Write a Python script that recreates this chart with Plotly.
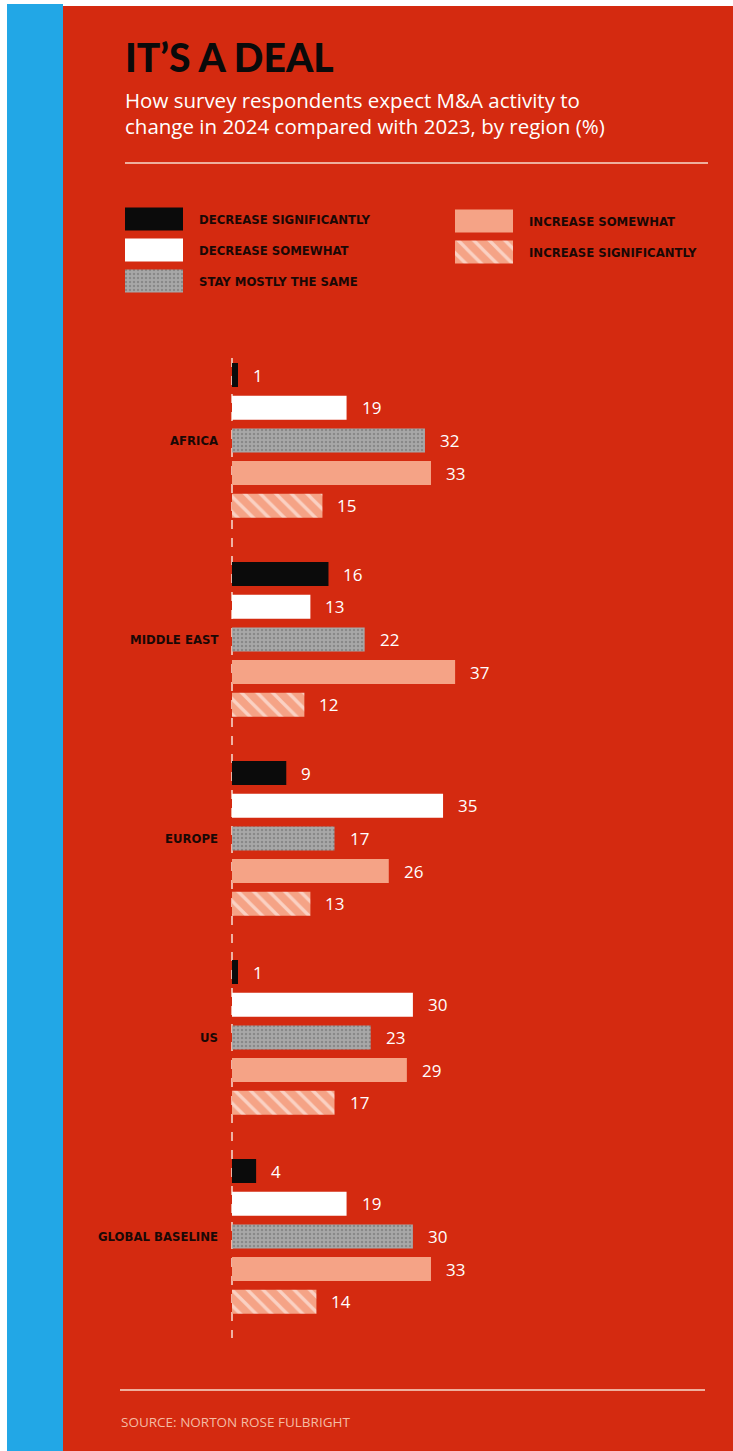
import plotly.graph_objects as go

# ---------------- data ----------------
regions = ["AFRICA", "MIDDLE EAST", "EUROPE", "US", "GLOBAL BASELINE"]
series_names = ["DECREASE SIGNIFICANTLY", "DECREASE SOMEWHAT", "STAY MOSTLY THE SAME",
                "INCREASE SOMEWHAT", "INCREASE SIGNIFICANTLY"]
decrease_significantly = [1, 16, 9, 1, 4]
decrease_somewhat = [19, 13, 35, 30, 19]
stay_mostly_the_same = [32, 22, 17, 23, 30]
increase_somewhat = [33, 37, 26, 29, 33]
increase_significantly = [15, 12, 13, 17, 14]
series_values = [decrease_significantly, decrease_somewhat, stay_mostly_the_same,
                 increase_somewhat, increase_significantly]

title = "IT’S A DEAL"
subtitle_lines = ["How survey respondents expect M&A activity to",
                  "change in 2024 compared with 2023, by region (%)"]
source = "SOURCE: NORTON ROSE FULBRIGHT"

# ---------------- styling ----------------
W, H = 733, 1451
RED = "#d42a10"
BLUE = "#22a7e6"
SALMON = "#f5a386"
styles = [
    dict(color="#0b0b0b"),
    dict(color="#ffffff"),
    dict(color="#a0a0a0", pattern=dict(shape=".", fgcolor="#6a6a6a", bgcolor="#a8a8a8",
                                       size=4, solidity=0.3)),
    dict(color=SALMON),
    dict(color=SALMON, pattern=dict(shape="\\", fgcolor="#ffffff", bgcolor=SALMON,
                                    size=11, solidity=0.3)),
]

ZERO_PX = 232          # pixel position of value 0
PX_PER_UNIT = 6.03     # horizontal scale
FIRST_BAR_Y = 375      # centre of first bar (pixels from top)
GROUP_STEP = 199
SLOT = 32.7
BAR_H = 24

LABEL_FONT = "Liberation Sans Narrow, Arial Narrow, DejaVu Sans Condensed, sans-serif"
BODY_FONT = "Open Sans, Lato, sans-serif"

fig = go.Figure()

# main bars (x axis in data units, y axis in pixel units, reversed)
for j, (name, vals) in enumerate(zip(series_names, series_values)):
    ys = [FIRST_BAR_Y + i * GROUP_STEP + j * SLOT for i in range(len(regions))]
    fig.add_trace(go.Bar(
        x=vals, y=ys, orientation="h", width=BAR_H, name=name,
        marker=dict(line=dict(width=0), **styles[j]),
        showlegend=False, hoverinfo="x+name",
    ))
    for v, y in zip(vals, ys):
        fig.add_annotation(x=v, y=y, xref="x", yref="y", text=str(v), showarrow=False,
                           xanchor="left", yanchor="middle", xshift=13,
                           font=dict(family=BODY_FONT, size=17, color="white"))

# region labels
for i, r in enumerate(regions):
    fig.add_annotation(x=220 / W, xref="paper", y=FIRST_BAR_Y + i * GROUP_STEP + 2 * SLOT,
                       yref="y", text=r, showarrow=False, xanchor="right", yanchor="middle",
                       font=dict(family=LABEL_FONT, size=13, color="#1a0805", weight=700))

# legend swatches (drawn on an auxiliary pixel-based x axis)
legend_pos = [(125, 219), (125, 250), (125, 281), (455, 221), (455, 252)]
KEY_W = 58
for j, (name, (lx, ly)) in enumerate(zip(series_names, legend_pos)):
    fig.add_trace(go.Bar(
        x=[KEY_W], base=[lx], y=[ly], orientation="h", width=23, xaxis="x2", yaxis="y",
        marker=dict(line=dict(width=0), **styles[j]), showlegend=False, hoverinfo="skip",
    ))
    fig.add_annotation(x=lx + KEY_W + 14, xref="x2", y=ly, yref="y", text=name,
                       showarrow=False, xanchor="left", yanchor="middle",
                       font=dict(family=LABEL_FONT, size=13, color="#1a0805", weight=700))

# title & subtitle
fig.add_annotation(x=123, xref="x2", y=57, yref="y", text=title, showarrow=False,
                   xanchor="left", yanchor="middle",
                   font=dict(family="Lato, Open Sans, sans-serif", size=39, color="#0a0a0a",
                             weight=900))
for k, line in enumerate(subtitle_lines):
    fig.add_annotation(x=123, xref="x2", y=100 + k * 26, yref="y", text=line,
                       showarrow=False, xanchor="left", yanchor="middle",
                       font=dict(family=BODY_FONT, size=20.5, color="white"))
fig.add_annotation(x=119, xref="x2", y=1422, yref="y", text=source, showarrow=False,
                   xanchor="left", yanchor="middle",
                   font=dict(family=BODY_FONT, size=13.5, color="#f4bca4"))

shapes = [
    # white page margins
    dict(type="rect", xref="x2", yref="y", x0=0, x1=W, y0=0, y1=6,
         fillcolor="white", line=dict(width=0), layer="below"),
    dict(type="rect", xref="x2", yref="y", x0=0, x1=7, y0=0, y1=H,
         fillcolor="white", line=dict(width=0), layer="below"),
    # blue strip
    dict(type="rect", xref="x2", yref="y", x0=7, x1=63, y0=4, y1=H,
         fillcolor=BLUE, line=dict(width=0), layer="below"),
    # rules
    dict(type="line", xref="x2", yref="y", x0=125, x1=708, y0=163, y1=163,
         line=dict(color="#f7dccd", width=1.5)),
    dict(type="line", xref="x2", yref="y", x0=120, x1=705, y0=1390, y1=1390,
         line=dict(color="#f7dccd", width=1.5)),
    # dashed baseline
    dict(type="line", xref="x", yref="y", x0=0, x1=0, y0=358, y1=1338,
         line=dict(color="#f7e0d4", width=1.5, dash="dash"), layer="below"),
]

fig.update_layout(
    width=W, height=H,
    margin=dict(l=0, r=0, t=0, b=0),
    paper_bgcolor=RED, plot_bgcolor=RED,
    barmode="overlay",
    xaxis=dict(range=[-ZERO_PX / PX_PER_UNIT, (W - ZERO_PX) / PX_PER_UNIT],
               visible=False, fixedrange=True),
    xaxis2=dict(range=[0, W], overlaying="x", visible=False, fixedrange=True),
    yaxis=dict(range=[H, 0], visible=False, fixedrange=True),
    shapes=shapes,
    showlegend=False,
)

fig.write_html(
    "out.html",
    config={"displayModeBar": False},
    post_script="document.body.style.margin='0px';document.body.style.overflow='hidden';",
)
